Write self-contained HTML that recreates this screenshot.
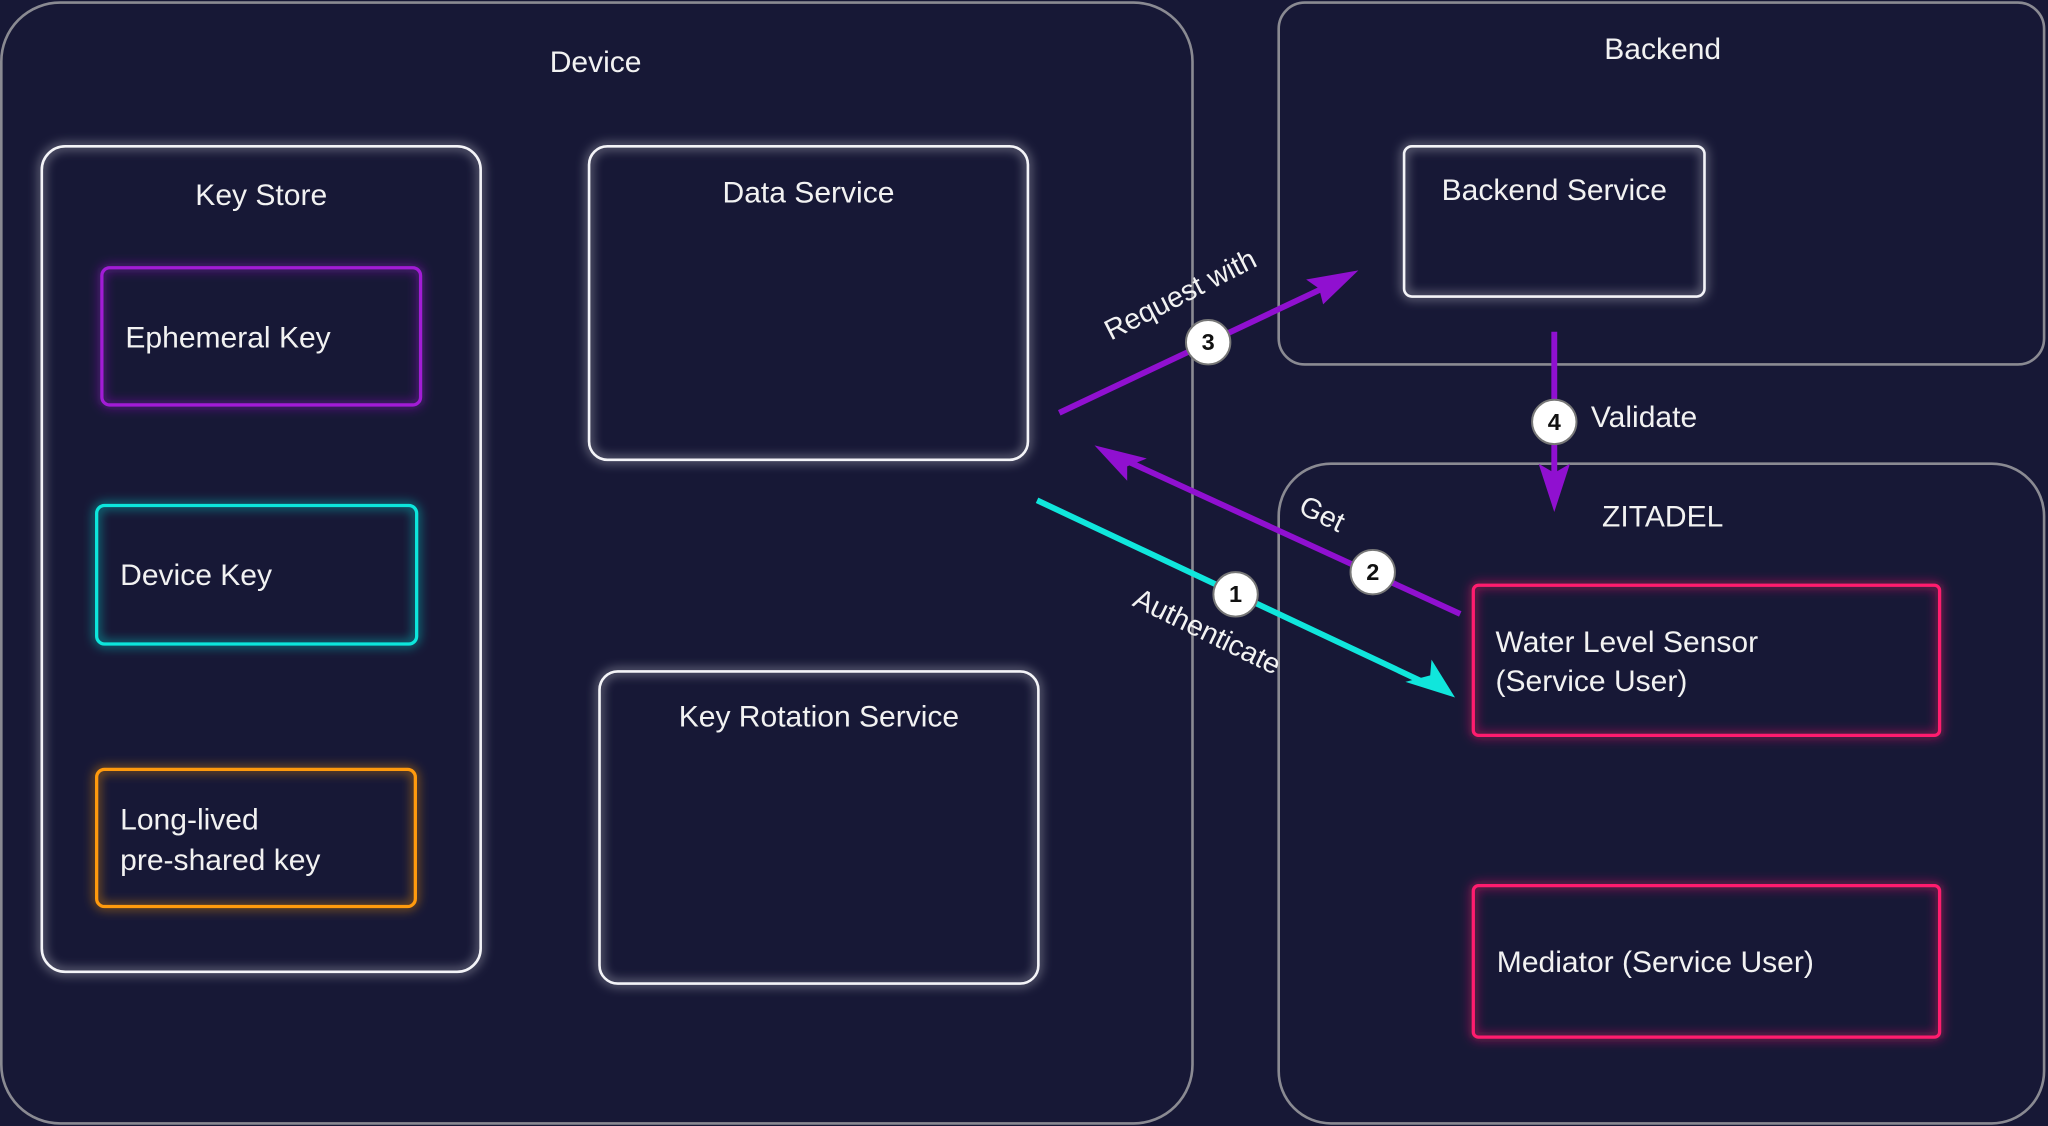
<!DOCTYPE html>
<html><head><meta charset="utf-8"><style>
html,body{margin:0;padding:0;background:#171836;}
svg{display:block}
text{font-family:"Liberation Sans",sans-serif;fill:#f2f2f2;font-weight:300}
</style></head><body>
<svg width="2048" height="1126" viewBox="0 0 1568 862" preserveAspectRatio="none" xmlns="http://www.w3.org/2000/svg">
<defs>
<filter id="g" x="-20%" y="-20%" width="140%" height="140%"><feGaussianBlur stdDeviation="4" in="SourceGraphic" result="b"/><feMerge><feMergeNode in="b"/><feMergeNode in="SourceGraphic"/></feMerge></filter>
</defs>
<rect width="1568" height="862" fill="#171836"/>
<!-- containers -->
<rect x="1" y="2" width="912" height="858" rx="45" fill="none" stroke="#8a8a92" stroke-width="2"/>
<rect x="979" y="2" width="586" height="277" rx="20" fill="none" stroke="#8a8a92" stroke-width="2"/>
<rect x="979" y="355" width="586" height="505" rx="40" fill="none" stroke="#8a8a92" stroke-width="2"/>
<text x="456" y="55" font-size="23" text-anchor="middle">Device</text>
<text x="1273" y="45" font-size="23" text-anchor="middle">Backend</text>
<text x="1273" y="403" font-size="23" text-anchor="middle">ZITADEL</text>
<!-- white boxes -->
<g fill="none" stroke="#f4f4f8" stroke-width="2" filter="url(#g)">
<rect x="32" y="112" width="336" height="632" rx="18"/>
<rect x="451" y="112" width="336" height="240" rx="14"/>
<rect x="459" y="514" width="336" height="239" rx="14"/>
<rect x="1075" y="112" width="230" height="115" rx="6"/>
</g>
<text x="200" y="157" font-size="23" text-anchor="middle">Key Store</text>
<text x="619" y="155" font-size="23" text-anchor="middle">Data Service</text>
<text x="627" y="556" font-size="23" text-anchor="middle">Key Rotation Service</text>
<text x="1190" y="153" font-size="23" text-anchor="middle">Backend Service</text>
<!-- colored boxes -->
<g fill="none" stroke-width="2.5" filter="url(#g)">
<rect x="78" y="205" width="244" height="105" rx="6" stroke="#a21bd6"/>
<rect x="74" y="387" width="245" height="106" rx="6" stroke="#10e6dc"/>
<rect x="74" y="589" width="244" height="105" rx="6" stroke="#ff9a10"/>
<rect x="1128" y="448" width="357" height="115" rx="4" stroke="#ff1f6e"/>
<rect x="1128" y="678" width="357" height="116" rx="4" stroke="#ff1f6e"/>
</g>
<text x="96" y="266" font-size="23">Ephemeral Key</text>
<text x="92" y="448" font-size="23">Device Key</text>
<text x="92" y="635" font-size="23">Long-lived</text>
<text x="92" y="666" font-size="23">pre-shared key</text>
<text x="1145" y="499" font-size="23">Water Level  Sensor</text>
<text x="1145" y="529" font-size="23">(Service User)</text>
<text x="1146" y="744" font-size="23">Mediator (Service User)</text>
<!-- arrows -->
<g stroke-width="4.5" fill="none">
<line x1="811" y1="316" x2="1025" y2="215" stroke="#9010d0"/>
<line x1="1118" y1="470" x2="852" y2="348" stroke="#9010d0"/>
<line x1="794" y1="383" x2="1100" y2="527" stroke="#10e6dc"/>
<line x1="1190" y1="254" x2="1190" y2="380" stroke="#9010d0"/>
</g>
<polygon points="1040,207 1000,214 1010,221 1013,233" fill="#9010d0"/>
<polygon points="838,341 863,368 863,357 878,351" fill="#9010d0"/>
<polygon points="1114,534 1096,505 1095,517 1076,522" fill="#10e6dc"/>
<polygon points="1190,392 1178,355 1190,362 1202,355" fill="#9010d0"/>
<g fill="#ffffff" stroke="#777" stroke-width="1.5">
<circle cx="925" cy="262" r="17"/>
<circle cx="1051" cy="438" r="17"/>
<circle cx="946" cy="455" r="17"/>
<circle cx="1190" cy="323" r="17"/>
</g>
<g font-size="18" font-weight="bold" text-anchor="middle" style="fill:#111;font-weight:700">
<text x="925" y="268" style="fill:#111;font-weight:700">3</text>
<text x="1051" y="444" style="fill:#111;font-weight:700">2</text>
<text x="946" y="461" style="fill:#111;font-weight:700">1</text>
<text x="1190" y="329" style="fill:#111;font-weight:700">4</text>
</g>
<text font-size="22" text-anchor="middle" transform="translate(907,232) rotate(-27)">Request with</text>
<text font-size="22" text-anchor="middle" transform="translate(1009,400) rotate(26)">Get</text>
<text font-size="22" text-anchor="middle" transform="translate(921,490) rotate(26)">Authenticate</text>
<text x="1218" y="327" font-size="23">Validate</text>
</svg>
</body></html>
